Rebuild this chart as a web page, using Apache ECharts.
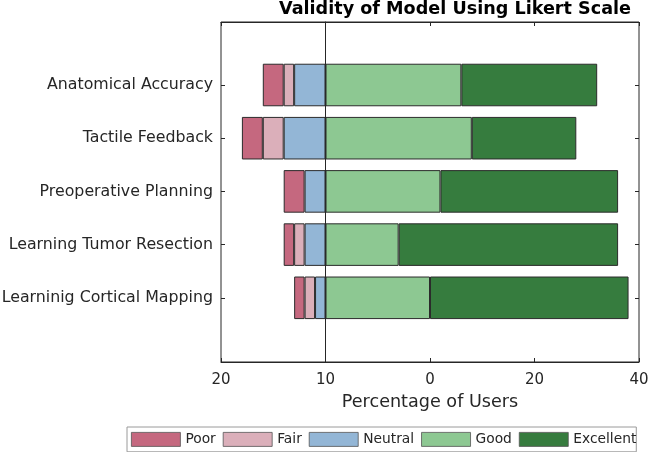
<!DOCTYPE html>
<html>
<head>
<meta charset="utf-8">
<script src="https://cdn.jsdelivr.net/npm/echarts@6/dist/echarts.min.js"></script>
<style>
html,body{margin:0;padding:0;background:#fff;}
#chart{width:649px;height:452px;}
</style>
</head>
<body>
<div id="chart"></div>
<script>
// ---- data ----
const categories = ['Anatomical Accuracy', 'Tactile Feedback', 'Preoperative Planning', 'Learning Tumor Resection', 'Learninig Cortical Mapping'];
const levels = ['Poor', 'Fair', 'Neutral', 'Good', 'Excellent'];
const poor = [2, 2, 2, 1, 1];
const fair = [1, 2, 0, 1, 1];
const neutral = [3, 4, 2, 2, 1];
const good = [13, 14, 11, 7, 10];
const excellent = [13, 10, 17, 21, 19];
const tickValues = [-10, 0, 10, 20, 30];
const tickLabels = ['20', '10', '0', '20', '40'];

const colors = {Poor: '#c5687f', Fair: '#dbafba', Neutral: '#93b6d6', Good: '#8dc892', Excellent: '#367c3e'};
const FONT = 'DejaVu Sans';
const TXT = '#262626';
const AX = '#262626';

const neg = a => a.map(v => v === 0 ? null : -v);
const pos = a => a.map(v => v === 0 ? null : v);

function barSeries(name, data) {
  return {
    name: name, type: 'bar', stack: 'likert', data: data,
    xAxisIndex: 2, yAxisIndex: 1, barWidth: '80%',
    itemStyle: {color: colors[name], borderColor: '#2b2b2b', borderWidth: 1},
    emphasis: {disabled: true}, animation: false
  };
}

const chart = echarts.init(document.getElementById('chart'), null, {renderer: 'canvas'});
const xmin = tickValues[0], xmax = tickValues[tickValues.length - 1];
const labelFor = v => { const i = tickValues.indexOf(Math.round(v)); return i >= 0 ? tickLabels[i] : ''; };

chart.setOption({
  animation: false,
  backgroundColor: '#fff',
  title: {
    text: 'Validity of Model Using Likert Scale',
    left: 455, top: 0, padding: 0, textAlign: 'center',
    textStyle: {fontFamily: FONT, fontSize: 17.6, fontWeight: 'bold', color: '#000'}
  },
  legend: {
    data: levels, left: 127, top: 427, width: 600, orient: 'horizontal',
    itemWidth: 49, itemHeight: 14, itemGap: 7,
    padding: [5, 0, 5, 4], borderColor: '#9a9a9a', borderWidth: 1,
    icon: 'rect',
    itemStyle: {borderWidth: 0.8, borderColor: '#555'},
    textStyle: {fontFamily: FONT, fontSize: 13.8, color: TXT}
  },
  grid: [
    {left: 221, top: 22, width: 418, height: 340, show: true, borderColor: AX, borderWidth: 1,
      backgroundColor: 'transparent', containLabel: false, outerBoundsMode: 'none'},
    {left: 221, top: 58.4, width: 418, height: 266, containLabel: false, outerBoundsMode: 'none'}
  ],
  xAxis: [
    {gridIndex: 0, type: 'value', position: 'bottom', min: xmin, max: xmax, interval: 10,
      axisLine: {show: true, onZero: false, lineStyle: {color: AX}},
      axisTick: {show: true, inside: true, length: 4, lineStyle: {color: AX}},
      axisLabel: {formatter: labelFor, fontFamily: FONT, fontSize: 15, color: TXT, margin: 11},
      splitLine: {show: false},
      name: 'Percentage of Users', nameLocation: 'middle', nameGap: 31,
      nameTextStyle: {fontFamily: FONT, fontSize: 17.6, color: TXT}},
    {gridIndex: 0, type: 'value', position: 'top', min: xmin, max: xmax, interval: 10,
      axisLine: {show: true, onZero: false, lineStyle: {color: AX}},
      axisTick: {show: true, inside: true, length: 4, lineStyle: {color: AX}},
      axisLabel: {show: false}, splitLine: {show: false}},
    {gridIndex: 1, type: 'value', min: xmin, max: xmax, interval: 10, show: false}
  ],
  yAxis: [
    {gridIndex: 0, type: 'value', min: 0, max: 1,
      axisLine: {show: true, onZero: true, lineStyle: {color: AX}},
      axisTick: {show: false}, axisLabel: {show: false}, splitLine: {show: false}},
    {gridIndex: 1, type: 'category', data: categories, inverse: true, position: 'left',
      axisLine: {show: false, onZero: false},
      axisTick: {show: true, inside: true, length: 4, alignWithLabel: true, lineStyle: {color: AX}},
      axisLabel: {fontFamily: FONT, fontSize: 15.8, color: TXT, margin: 8, padding: [4, 0, 0, 0]}},
    {gridIndex: 1, type: 'category', data: categories, inverse: true, position: 'right',
      axisLine: {show: false, onZero: false},
      axisTick: {show: true, inside: true, length: 4, alignWithLabel: true, lineStyle: {color: AX}},
      axisLabel: {show: false}}
  ],
  series: [
    barSeries('Neutral', neg(neutral)),
    barSeries('Fair', neg(fair)),
    barSeries('Poor', neg(poor)),
    barSeries('Good', pos(good)),
    barSeries('Excellent', pos(excellent))
  ]
});
</script>
</body>
</html>
